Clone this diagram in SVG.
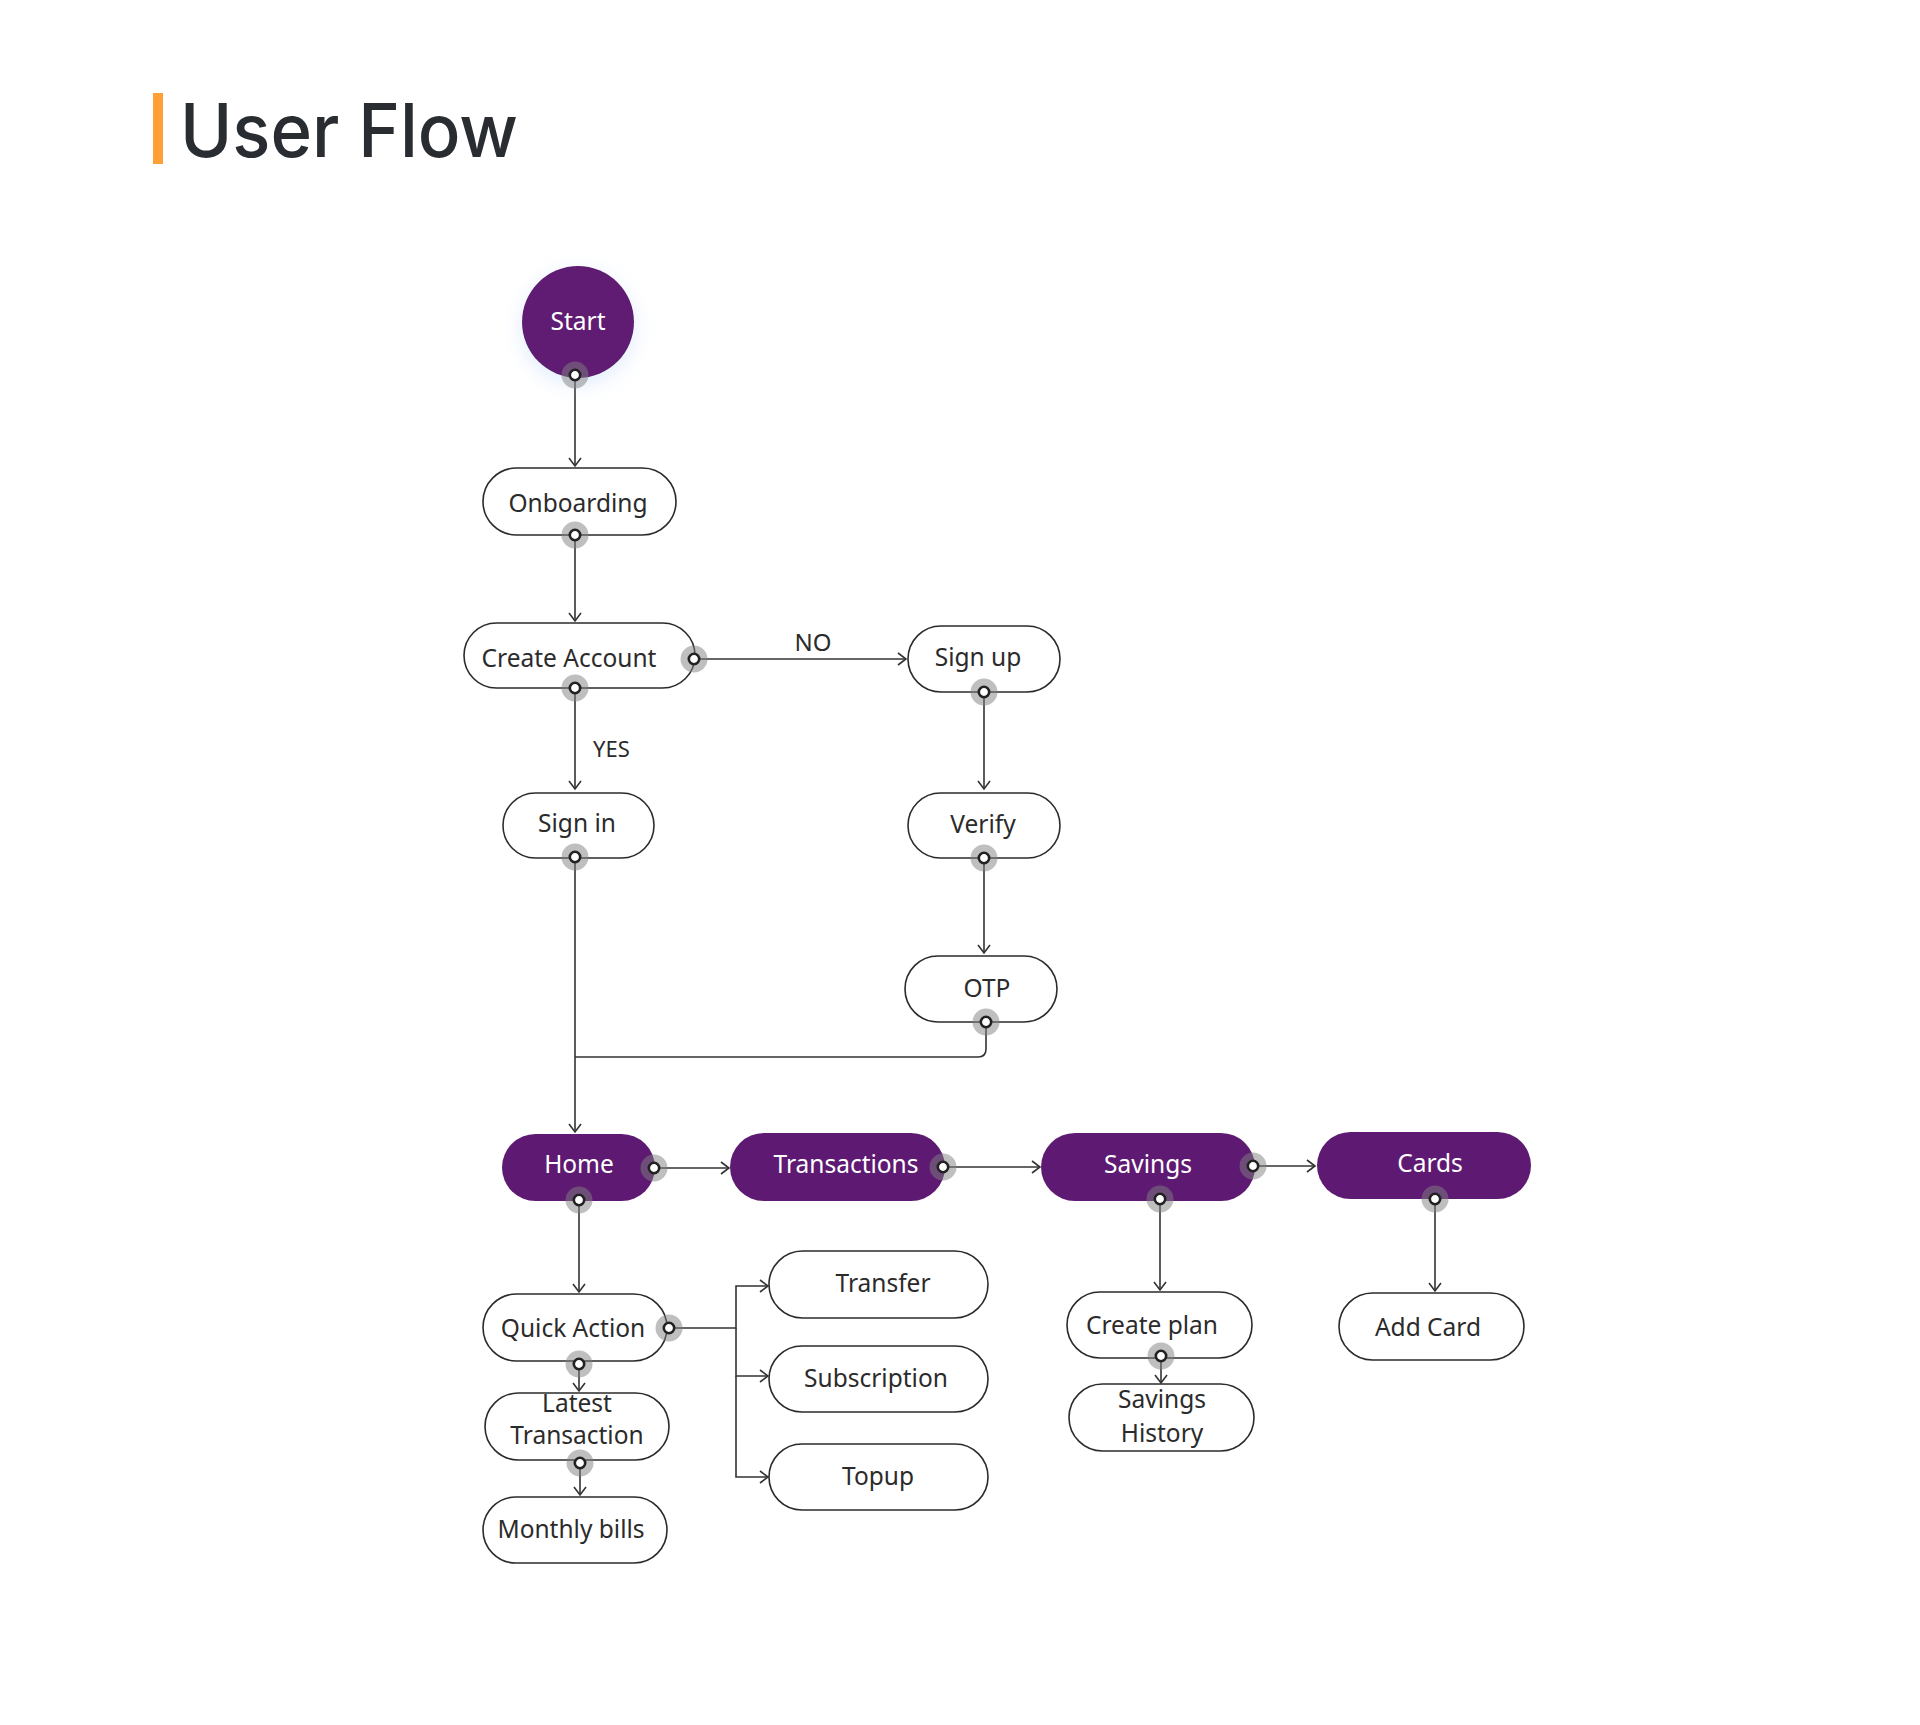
<svg xmlns="http://www.w3.org/2000/svg" width="1920" height="1725" viewBox="0 0 1920 1725">
<style>
.node{fill:#ffffff;stroke:#2b2b2b;stroke-width:1.6}
.fill{fill:#5e1a72;stroke:none}
.lbl{font-family:"Noto Sans","Open Sans",sans-serif;font-size:24.5px;fill:#2b2b2b;text-anchor:middle}
.wlbl{font-family:"Noto Sans","Open Sans",sans-serif;font-size:24.5px;fill:#ffffff;text-anchor:middle}
.edge{fill:none;stroke:#333333;stroke-width:1.6}
.halo{fill:#808080;opacity:0.5}
.pin{fill:#ffffff;stroke:#222222;stroke-width:2.6}
.elbl{font-family:"Noto Sans","Open Sans",sans-serif;fill:#2b2b2b}
</style>
<defs>
<marker id="arr" markerUnits="userSpaceOnUse" markerWidth="12" markerHeight="14" refX="9" refY="7" orient="auto">
<path d="M1,1 L9,7 L1,13" fill="none" stroke="#333333" stroke-width="1.6"/>
</marker>
<filter id="glow" x="-50%" y="-50%" width="200%" height="200%">
<feDropShadow dx="0" dy="6" stdDeviation="10" flood-color="#a9c9f7" flood-opacity="0.35"/>
</filter>
<g id="port"><circle r="13.5" class="halo"/><circle r="5.2" class="pin"/></g>
</defs>
<rect width="1920" height="1725" fill="#ffffff"/>
<g id="title">
<rect x="153" y="93" width="10" height="71" fill="#ff9f35"/>
<text x="180" y="157" font-family="Inter,'Open Sans',sans-serif" font-weight="500" font-size="74" fill="#292d32" textLength="338" lengthAdjust="spacingAndGlyphs">User Flow</text>
</g>
<g id="connectors">
<path class="edge" marker-end="url(#arr)" d="M575,375 V466"/>
<path class="edge" marker-end="url(#arr)" d="M575,535 V621"/>
<path class="edge" marker-end="url(#arr)" d="M694,659 H906"/>
<text class="elbl" x="813" y="651" font-size="24" text-anchor="middle">NO</text>
<path class="edge" marker-end="url(#arr)" d="M575,688 V789"/>
<text class="elbl" x="593" y="757" font-size="22">YES</text>
<path class="edge" marker-end="url(#arr)" d="M984,692 V789"/>
<path class="edge" marker-end="url(#arr)" d="M984,858 V953"/>
<path class="edge" marker-end="url(#arr)" d="M575,857 V1132"/>
<path class="edge" d="M986,1022 V1049 Q986,1057 978,1057 H575"/>
<path class="edge" marker-end="url(#arr)" d="M654,1168 H729"/>
<path class="edge" marker-end="url(#arr)" d="M943,1167 H1040"/>
<path class="edge" marker-end="url(#arr)" d="M1253,1166 H1315"/>
<path class="edge" marker-end="url(#arr)" d="M579,1200 V1292"/>
<path class="edge" marker-end="url(#arr)" d="M669,1328 H736 V1286 H768"/>
<path class="edge" marker-end="url(#arr)" d="M736,1328 V1376 H768"/>
<path class="edge" marker-end="url(#arr)" d="M736,1376 V1477 H768"/>
<path class="edge" marker-end="url(#arr)" d="M579,1364 V1391"/>
<path class="edge" marker-end="url(#arr)" d="M580,1463 V1495"/>
<path class="edge" marker-end="url(#arr)" d="M1160,1199 V1290"/>
<path class="edge" marker-end="url(#arr)" d="M1161,1356 V1383"/>
<path class="edge" marker-end="url(#arr)" d="M1435,1199 V1291"/>
</g>
<g id="start">
<circle cx="578" cy="322" r="56" class="fill" filter="url(#glow)"/>
<text class="wlbl" x="578" y="330">Start</text>
<use href="#port" x="575" y="375"/>
</g>
<g id="onboarding">
<rect class="node" x="483" y="468" width="193" height="67" rx="33.5"/>
<text class="lbl" x="578" y="512">Onboarding</text>
<use href="#port" x="575" y="535"/>
</g>
<g id="create-account">
<rect class="node" x="464" y="623" width="231" height="65" rx="32.5"/>
<text class="lbl" x="569" y="667">Create Account</text>
<use href="#port" x="694" y="659"/>
<use href="#port" x="575" y="688"/>
</g>
<g id="sign-up">
<rect class="node" x="908" y="626" width="152" height="66" rx="33"/>
<text class="lbl" x="978" y="666">Sign up</text>
<use href="#port" x="984" y="692"/>
</g>
<g id="sign-in">
<rect class="node" x="503" y="793" width="151" height="65" rx="32.5"/>
<text class="lbl" x="577" y="832">Sign in</text>
<use href="#port" x="575" y="857"/>
</g>
<g id="verify">
<rect class="node" x="908" y="793" width="152" height="65" rx="32.5"/>
<text class="lbl" x="983" y="833">Verify</text>
<use href="#port" x="984" y="858"/>
</g>
<g id="otp">
<rect class="node" x="905" y="956" width="152" height="66" rx="33"/>
<text class="lbl" x="987" y="997">OTP</text>
<use href="#port" x="986" y="1022"/>
</g>
<g id="home">
<rect class="fill" x="502" y="1134" width="153" height="67" rx="33.5"/>
<text class="wlbl" x="579" y="1173">Home</text>
<use href="#port" x="654" y="1168"/>
<use href="#port" x="579" y="1200"/>
</g>
<g id="transactions">
<rect class="fill" x="730" y="1133" width="215" height="68" rx="34"/>
<text class="wlbl" x="846" y="1173">Transactions</text>
<use href="#port" x="943" y="1167"/>
</g>
<g id="savings">
<rect class="fill" x="1041" y="1133" width="214" height="68" rx="34"/>
<text class="wlbl" x="1148" y="1173">Savings</text>
<use href="#port" x="1253" y="1166"/>
<use href="#port" x="1160" y="1199"/>
</g>
<g id="cards">
<rect class="fill" x="1317" y="1132" width="214" height="67" rx="33.5"/>
<text class="wlbl" x="1430" y="1172">Cards</text>
<use href="#port" x="1435" y="1199"/>
</g>
<g id="quick-action">
<rect class="node" x="483" y="1294" width="184" height="67" rx="33.5"/>
<text class="lbl" x="573" y="1337">Quick Action</text>
<use href="#port" x="669" y="1328"/>
<use href="#port" x="579" y="1364"/>
</g>
<g id="latest-transaction">
<rect class="node" x="485" y="1393" width="184" height="67" rx="33.5"/>
<text class="lbl" x="577" y="1412">Latest</text>
<text class="lbl" x="577" y="1444">Transaction</text>
<use href="#port" x="580" y="1463"/>
</g>
<g id="monthly-bills">
<rect class="node" x="483" y="1497" width="184" height="66" rx="33"/>
<text class="lbl" x="571" y="1538">Monthly bills</text>
</g>
<g id="transfer">
<rect class="node" x="769" y="1251" width="219" height="67" rx="33.5"/>
<text class="lbl" x="883" y="1292">Transfer</text>
</g>
<g id="subscription">
<rect class="node" x="769" y="1346" width="219" height="66" rx="33"/>
<text class="lbl" x="876" y="1387">Subscription</text>
</g>
<g id="topup">
<rect class="node" x="769" y="1444" width="219" height="66" rx="33"/>
<text class="lbl" x="878" y="1485">Topup</text>
</g>
<g id="create-plan">
<rect class="node" x="1067" y="1292" width="185" height="66" rx="33"/>
<text class="lbl" x="1152" y="1334">Create plan</text>
<use href="#port" x="1161" y="1356"/>
</g>
<g id="savings-history">
<rect class="node" x="1069" y="1384" width="185" height="67" rx="33.5"/>
<text class="lbl" x="1162" y="1408">Savings</text>
<text class="lbl" x="1162" y="1442">History</text>
</g>
<g id="add-card">
<rect class="node" x="1339" y="1293" width="185" height="67" rx="33.5"/>
<text class="lbl" x="1428" y="1336">Add Card</text>
</g>
</svg>
